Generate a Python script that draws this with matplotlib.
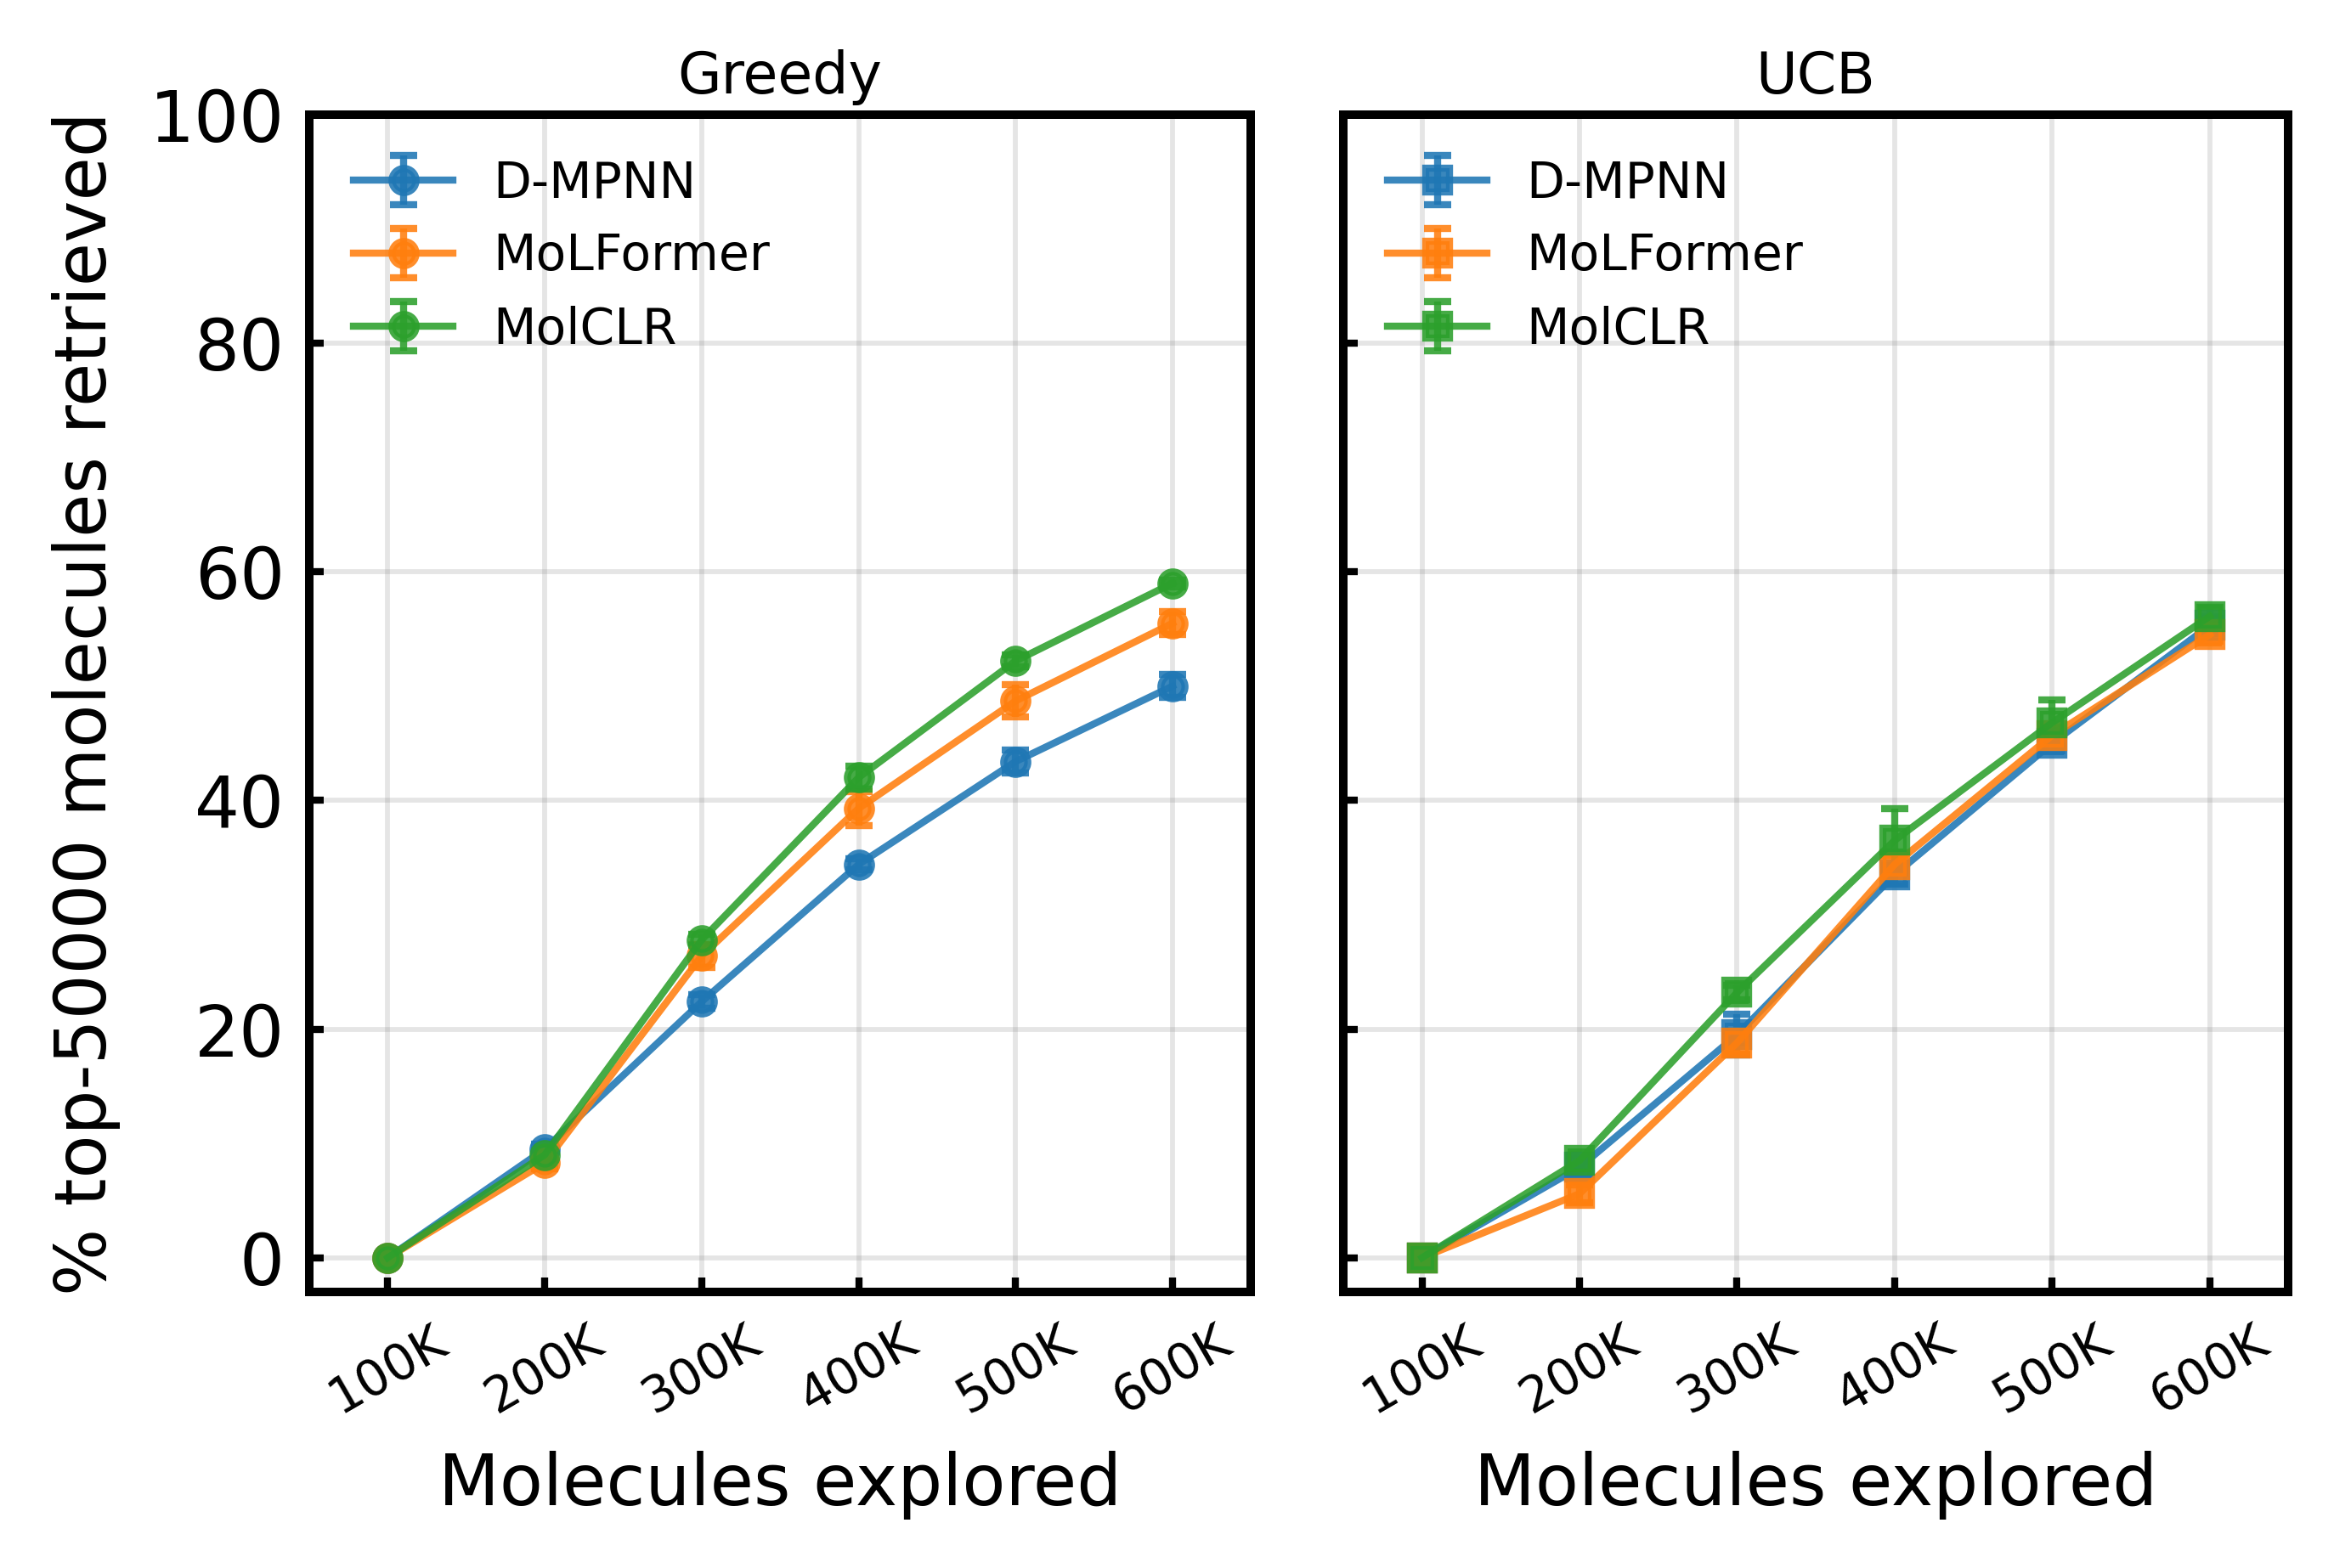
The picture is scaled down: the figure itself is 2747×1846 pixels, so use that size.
import numpy as np
import matplotlib.pyplot as plt

# molecules explored (thousands)
explored = [100, 200, 300, 400, 500, 600]
xlabels = ['100K', '200K', '300K', '400K', '500K', '600K']
models = ['D-MPNN', 'MoLFormer', 'MolCLR']
colors = ['#1f77b4', '#ff7f0e', '#2ca02c']

# Greedy acquisition: mean and std of % top-50000 retrieved
greedy_mean = {
    'D-MPNN':    [0.0, 9.5, 22.4, 34.4, 43.4, 50.0],
    'MoLFormer': [0.0, 8.3, 26.4, 39.3, 48.7, 55.5],
    'MolCLR':    [0.0, 9.0, 27.8, 42.0, 52.2, 59.0],
}
greedy_std = {
    'D-MPNN':    [0.0, 0.4, 0.6, 0.5, 1.0, 1.0],
    'MoLFormer': [0.0, 0.5, 1.0, 1.5, 1.4, 1.0],
    'MolCLR':    [0.0, 0.4, 0.5, 1.0, 0.5, 0.3],
}

# UCB acquisition
ucb_mean = {
    'D-MPNN':    [0.0, 7.9, 19.5, 33.5, 45.0, 55.3],
    'MoLFormer': [0.0, 5.6, 18.8, 34.4, 45.7, 54.5],
    'MolCLR':    [0.0, 8.5, 23.2, 36.5, 46.8, 56.1],
}
ucb_std = {
    'D-MPNN':    [0.0, 0.6, 1.8, 0.8, 0.7, 0.6],
    'MoLFormer': [0.0, 0.8, 1.0, 0.8, 0.6, 0.6],
    'MolCLR':    [0.0, 0.5, 0.6, 2.8, 2.0, 0.8],
}

fig = plt.figure(figsize=(2747 / 600, 1846 / 600), dpi=600)
ax1 = fig.add_axes([0.1325, 0.176, 0.4035, 0.751])
ax2 = fig.add_axes([0.5755, 0.176, 0.4050, 0.751], sharey=ax1)

panels = [(ax1, 'Greedy', greedy_mean, greedy_std, 'o'),
          (ax2, 'UCB', ucb_mean, ucb_std, 's')]

for ax, title, means, stds, mk in panels:
    for m, c in zip(models, colors):
        ax.errorbar(explored, means[m], yerr=stds[m], color=c, marker=mk,
                    markersize=3.4, lw=1.0, elinewidth=1.0, capsize=1.9,
                    capthick=1.0, alpha=0.88, label=m)
    ax.set_title(title, fontsize=8, pad=3)
    ax.set_xlim(50, 650)
    ax.set_ylim(-3, 100)
    ax.set_xticks(explored)
    ax.set_xticklabels(xlabels, rotation=30, fontsize=7)
    ax.set_yticks([0, 20, 40, 60, 80, 100])
    ax.grid(True, color='gray', alpha=0.2, lw=0.7)
    ax.set_axisbelow(True)
    ax.tick_params(direction='in', length=2, width=1.0, labelsize=10)
    ax.tick_params(axis='x', labelsize=7)
    for sp in ax.spines.values():
        sp.set_linewidth(1.2)
    ax.set_xlabel('Molecules explored', fontsize=10)
    ax.legend(loc='upper left', frameon=False, fontsize=7)

ax1.set_ylabel('% top-50000 molecules retrieved', fontsize=10)
plt.setp(ax2.get_yticklabels(), visible=False)

fig.savefig('out.png', dpi=600)
